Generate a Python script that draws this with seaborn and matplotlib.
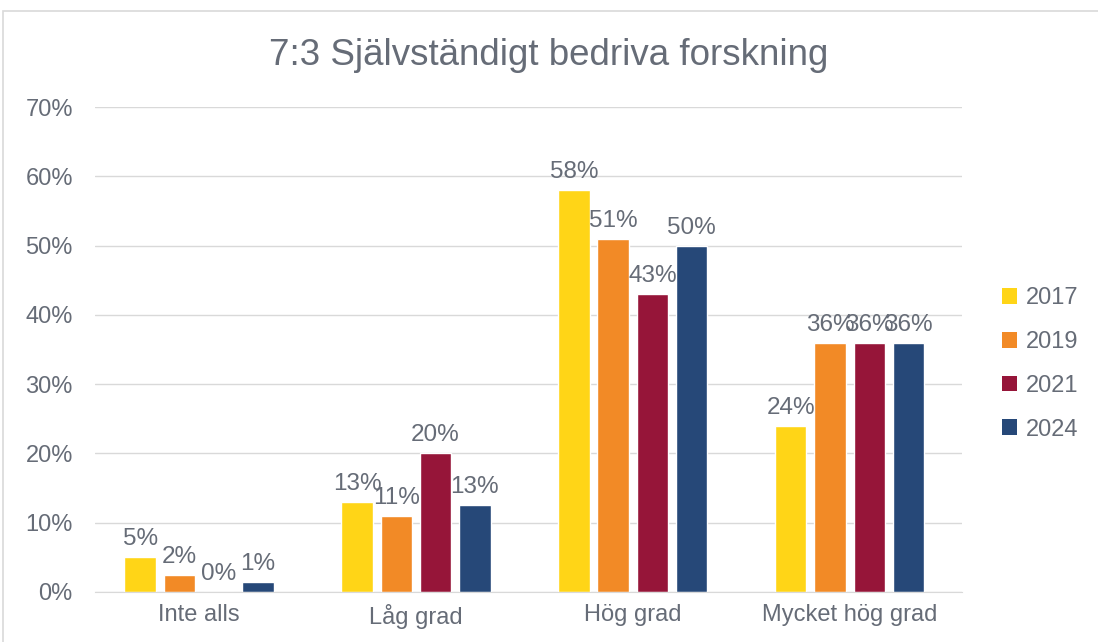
import numpy as np
import pandas as pd
import seaborn as sns
import matplotlib.pyplot as plt
from matplotlib.patches import Rectangle, Patch

# data
categories = ['Inte alls', 'Låg grad', 'Hög grad', 'Mycket hög grad']
years = ['2017', '2019', '2021', '2024']
v2017 = [5, 13, 58, 24]
v2019 = [2.4, 11, 51, 36]
v2021 = [0, 20, 43, 36]
v2024 = [1.4, 12.6, 50, 36]
colors = ['#FFD517', '#F28A26', '#961539', '#264878']
text_col = '#666c77'

rows = []
for yr, vals in zip(years, [v2017, v2019, v2021, v2024]):
    for cat, v in zip(categories, vals):
        rows.append({'kat': cat, 'year': yr, 'val': v})
df = pd.DataFrame(rows)

sns.set_style('white')
plt.rcParams['font.family'] = ['Liberation Sans', 'DejaVu Sans']

fig = plt.figure(figsize=(10.98, 6.42), dpi=100)
ax = fig.add_axes([0.0865, 0.078, 0.79, 0.755])

sns.barplot(data=df, x='kat', y='val', hue='year', palette=colors,
            width=0.725, gap=0.2, saturation=1, legend=False, ax=ax)

for cont in ax.containers:
    vals = [b.get_height() for b in cont]
    ax.bar_label(cont, labels=[f'{v:.0f}%' for v in vals], padding=5,
                 fontsize=17.5, color=text_col)

ax.set_ylim(0, 70)
ax.set_yticks(np.arange(0, 71, 10))
ax.set_yticklabels([f'{t}%' for t in range(0, 71, 10)])
ax.set_xlim(-0.48, 3.52)
ax.tick_params(axis='both', labelsize=17, colors=text_col, length=0)
ax.tick_params(axis='y', pad=16)
ax.tick_params(axis='x', pad=9)
ax.set_xlabel('')
ax.set_ylabel('')
ax.yaxis.grid(True, color='#d9d9d9', linewidth=1)
ax.set_axisbelow(True)
for s in ['top', 'right', 'left']:
    ax.spines[s].set_visible(False)
ax.spines['bottom'].set_color('#d9d9d9')

fig.text(0.5, 0.914, '7:3 Självständigt bedriva forskning', ha='center',
         va='center', fontsize=26.5, color=text_col)

handles = [Patch(facecolor=c, edgecolor='none') for c in colors]
fig.legend(handles, years, loc='center left', bbox_to_anchor=(0.893, 0.433),
           frameon=False, fontsize=17, labelcolor=text_col,
           handlelength=0.65, handleheight=0.65, handletextpad=0.35,
           labelspacing=0.92)

fig.patches.append(Rectangle((0.003, -0.02), 1.1, 1.003, transform=fig.transFigure,
                             fill=False, edgecolor='#d9d9d9', linewidth=1.2))

fig.savefig('out.png', dpi=100)
